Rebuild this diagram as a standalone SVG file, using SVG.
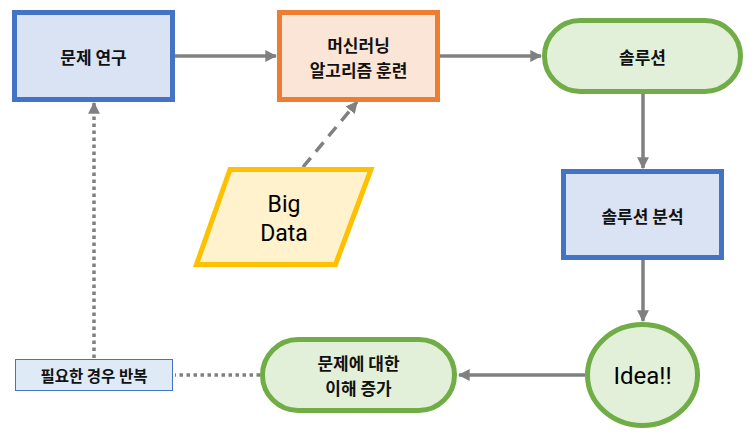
<svg xmlns="http://www.w3.org/2000/svg" width="756" height="439" viewBox="0 0 756 439">
<style>
.kr{font-family:"Noto Sans CJK KR","Noto Sans",sans-serif;font-weight:bold;font-size:17px;fill:#111;text-anchor:middle;dominant-baseline:central}
.en{font-family:"Roboto","Liberation Sans",sans-serif;font-size:23px;fill:#000;text-anchor:middle;dominant-baseline:central}
.blue{fill:#DAE3F3;stroke:#4472C4;stroke-width:5}
.green{fill:#E2F0D9;stroke:#70AD47;stroke-width:5}
.con{stroke:#808080;stroke-width:3.5;fill:none}
</style>
<defs>
<marker id="ah" viewBox="0 0 10 10" refX="9" refY="5" markerWidth="3.4" markerHeight="3.4" orient="auto" markerUnits="strokeWidth">
<path d="M0,0L10,5L0,10z" fill="#808080"/>
</marker>
</defs>
<g id="connectors">
<line class="con" x1="175" y1="56" x2="276" y2="56" marker-end="url(#ah)"/>
<line class="con" x1="440" y1="56" x2="541" y2="56" marker-end="url(#ah)"/>
<line class="con" x1="643" y1="94" x2="643" y2="168" marker-end="url(#ah)"/>
<line class="con" x1="643" y1="260" x2="643" y2="321" marker-end="url(#ah)"/>
<line class="con" x1="585" y1="375" x2="459" y2="375" marker-end="url(#ah)"/>
<line class="con" x1="303" y1="167" x2="357" y2="102" stroke-dasharray="12,8" marker-end="url(#ah)"/>
<line class="con" x1="260" y1="375" x2="175" y2="375" stroke-dasharray="3.5,3.5"/>
<line class="con" x1="94" y1="358" x2="94" y2="103" stroke-dasharray="3.5,3.5" marker-end="url(#ah)"/>
</g>
<g id="n1">
<rect class="blue" x="14.5" y="12.5" width="158" height="87"/>
<text class="kr" x="93.5" y="56">문제 연구</text>
</g>
<g id="n2">
<rect x="279.5" y="12.5" width="158" height="87" fill="#FBE5D6" stroke="#ED7D31" stroke-width="5"/>
<text class="kr" x="358.5" y="44">머신러닝</text>
<text class="kr" x="358.5" y="69">알고리즘 훈련</text>
</g>
<g id="n3">
<rect class="green" x="544.5" y="20.5" width="196" height="71" rx="35.5"/>
<text class="kr" x="642.5" y="56">솔루션</text>
</g>
<g id="n4">
<rect class="blue" x="563.5" y="171.5" width="158" height="86"/>
<text class="kr" x="642.5" y="215">솔루션 분석</text>
</g>
<g id="n5">
<ellipse class="green" cx="642.5" cy="375" rx="55" ry="50.5"/>
<text class="en" x="642.5" y="376" style="font-size:24px">Idea!!</text>
</g>
<g id="n6">
<rect class="green" x="262.5" y="339.5" width="192" height="71" rx="35.5"/>
<text class="kr" x="358.5" y="362">문제에 대한</text>
<text class="kr" x="358.5" y="387">이해 증가</text>
</g>
<g id="n7">
<rect x="15.5" y="359.5" width="157" height="31" fill="#DEEBF7" stroke="#4472C4" stroke-width="1"/>
<text class="kr" x="94" y="375" style="font-size:15.5px">필요한 경우 반복</text>
</g>
<g id="n8">
<polygon points="230,169.5 371,169.5 335.5,264.5 196.5,264.5" fill="#FFF2CC" stroke="#FFC000" stroke-width="5"/>
<text class="en" x="284" y="204">Big</text>
<text class="en" x="284" y="233">Data</text>
</g>
</svg>
